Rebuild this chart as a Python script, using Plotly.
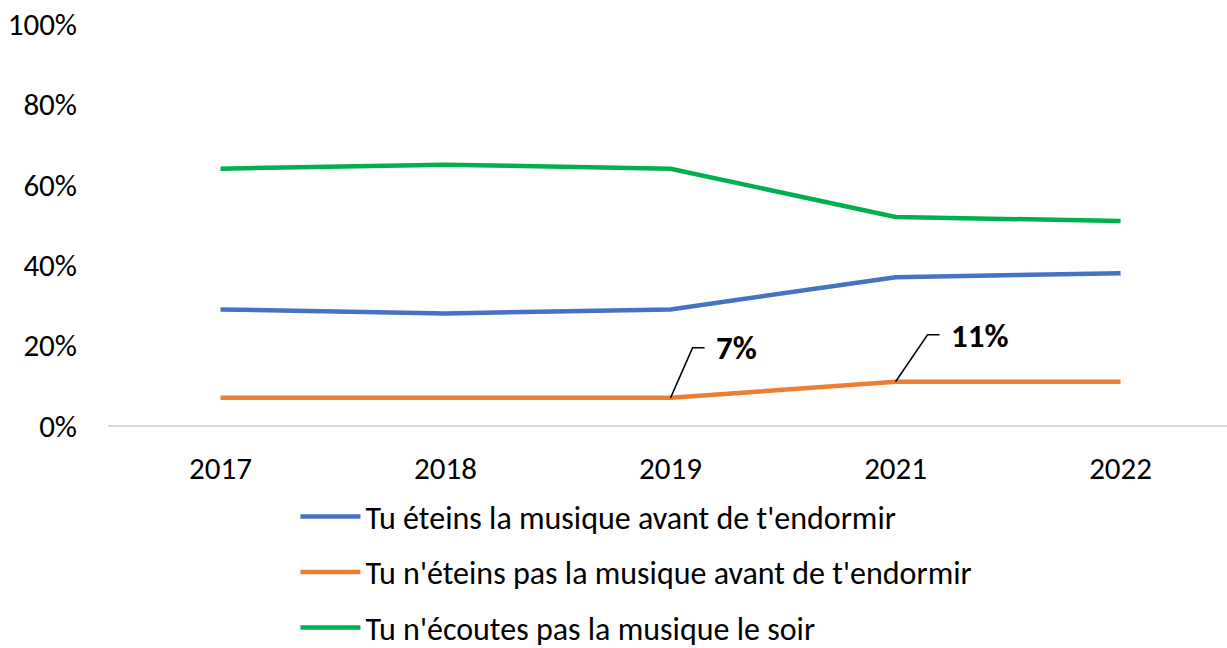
import plotly.graph_objects as go

years = ["2017", "2018", "2019", "2021", "2022"]
eteins = [29, 28, 29, 37, 38]
neteins_pas = [7, 7, 7, 11, 11]
necoutes_pas = [64, 65, 64, 52, 51]
names = [
    "Tu éteins la musique avant de t'endormir",
    "Tu n'éteins pas la musique avant de t'endormir",
    "Tu n'écoutes pas la musique le soir",
]
colors = ["#4472C4", "#ED7D31", "#00B050"]
y_ticks = [0, 20, 40, 60, 80, 100]
labelled = [2, 3]  # indices of orange points with data labels

FONT = "Carlito, Lato, sans-serif"

fig = go.Figure()
for i, (vals, name, col) in enumerate(zip([eteins, neteins_pas, necoutes_pas], names, colors)):
    fig.add_trace(go.Scatter(
        x=years, y=vals, name=name, mode="lines",
        line=dict(color=col, width=4.5),
        legendgroup=f"g{i}",
    ))

# leader line (dx, dy, horizontal end) and label shift (x, y)
offsets = {2: (22, 50, 34, 43, 50), 3: (32, 47, 44, 53, 46)}
for idx in labelled:
    dx, dy, hx, tx, ty = offsets[idx]
    fig.add_shape(
        type="path", xref="x", yref="y",
        xsizemode="pixel", ysizemode="pixel",
        xanchor=idx, yanchor=neteins_pas[idx],
        path=f"M0,0 L{dx},{dy} L{hx},{dy}",
        line=dict(color="black", width=1.5),
    )
    fig.add_annotation(
        x=idx, y=neteins_pas[idx], text=f"<b>{neteins_pas[idx]}%</b>",
        showarrow=False, xanchor="left", yanchor="middle",
        xshift=tx, yshift=ty,
        font=dict(family=FONT, size=33, color="black"),
    )

fig.update_layout(
    width=1227, height=648,
    margin=dict(l=108, r=0, t=24, b=222, autoexpand=False),
    paper_bgcolor="white", plot_bgcolor="white",
    font=dict(family=FONT, size=31, color="black"),
    showlegend=True,
    legend=dict(
        orientation="v", x=0.1675, xanchor="left", y=-0.157, yanchor="top",
        traceorder="grouped", tracegroupgap=11,
        font=dict(family=FONT, size=32, color="black"),
        itemwidth=60,
    ),
    xaxis=dict(
        type="category", range=[-0.5, 4.473],
        showgrid=False, showline=False, zeroline=False,
        ticks="", ticklabelstandoff=21, automargin=False,
        tickfont=dict(family=FONT, size=31),
    ),
    yaxis=dict(
        range=[0, 100], tickvals=y_ticks, ticktext=[f"{v}%" for v in y_ticks],
        showgrid=False, zeroline=True, zerolinecolor="#D9D9D9", zerolinewidth=1.5,
        showline=False, ticks="", ticklabelstandoff=30, automargin=False,
        ticklabeloverflow="allow",
        tickfont=dict(family=FONT, size=31),
    ),
)

# remove the browser's default 8px body margin so the figure fills the window
fig.write_html(
    "out.html",
    config={"displayModeBar": False},
    post_script="document.body.style.margin='0';document.body.style.overflow='hidden';",
)
